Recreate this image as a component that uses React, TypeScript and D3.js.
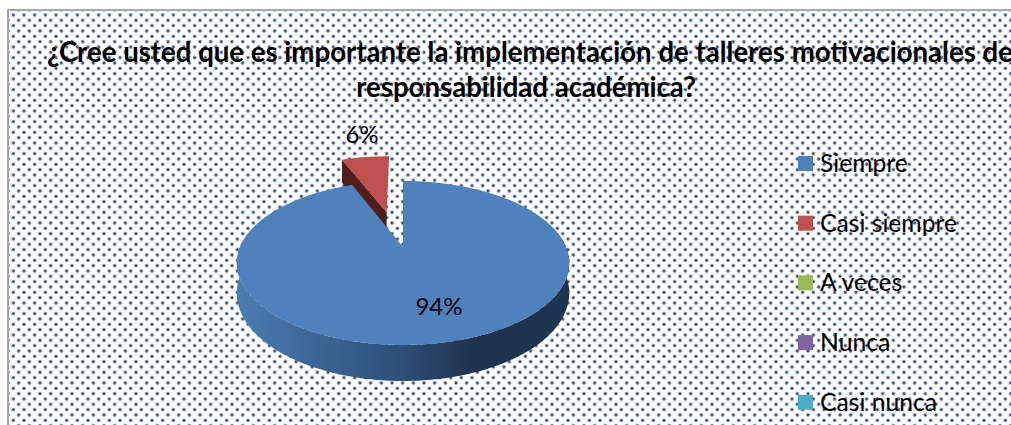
import React from "react";
import * as d3 from "d3";

const titleLines = [
  "¿Cree usted que es importante la implementación de talleres motivacionales de",
  "responsabilidad académica?",
];
const categories = ["Siempre", "Casi siempre", "A veces", "Nunca", "Casi nunca"];
const percentages = [94, 6, 0, 0, 0];
const sliceColors = ["#4f81bd", "#c0504d", "#9bbb59", "#8064a2", "#4bacc6"];
const sliceWallColors = ["#2c4d75", "#4f1e1c", "#5f7530", "#4d3b62", "#276a7c"];
const pieLabels = [
  { index: 0, x: 439, y: 315 },
  { index: 1, x: 362, y: 143 },
];

const W = 1011;
const H = 425;
const CX = 403;
const APEX_Y = 247;
const K = 163;
const PERSP = -0.195;
const YSCALE = 30.7;
const DROP = 29;
const FONT = "Lato, Carlito, 'Open Sans', sans-serif";

function project(u: number, v: number, drop = 0): [number, number] {
  const d = 1 + PERSP * v;
  return [CX + (K * u) / d, (YSCALE * v + APEX_Y) / d + drop / d];
}
const disc = (a: number, r = 1, ou = 0, ov = 0): [number, number] => [
  ou + r * Math.sin(a),
  ov - r * Math.cos(a),
];

const pieGen = d3
  .pie<number>()
  .sort(null)
  .startAngle(0)
  .endAngle(2 * Math.PI);
const arcs = pieGen(percentages);
const line = d3.line();

function topPath(start: number, end: number, ou: number, ov: number) {
  const pts: [number, number][] = [project(ou, ov)];
  for (const a of d3.range(start, end, 0.01).concat(end)) {
    const [u, v] = disc(a, 1, ou, ov);
    pts.push(project(u, v));
  }
  return line(pts) + "Z";
}

function frontWall(start: number, end: number) {
  const as = d3.range(start, end, 0.01).concat(end);
  const up = as.map((a) => {
    const [u, v] = disc(a);
    return project(u, v);
  });
  const down = as
    .slice()
    .reverse()
    .map((a) => {
      const [u, v] = disc(a);
      return project(u, v, DROP);
    });
  return line([...up, ...down]) + "Z";
}

const EXPLODE = 0.495;
const blue = arcs[0];
const red = arcs[1];
const redMid = (red.startAngle + red.endAngle) / 2 - 0.035;
const [redOu, redOv] = disc(redMid, EXPLODE);
const [redEdgeU, redEdgeV] = disc(red.startAngle, 1, redOu, redOv);

const redWall =
  line([
    project(redOu, redOv),
    project(redEdgeU, redEdgeV),
    project(redEdgeU, redEdgeV, DROP),
    project(redOu, redOv, DROP * 0.8),
  ]) + "Z";

const dotCentres = [
  [5.33, 5.33],
  [0, 0],
  [10.67, 0],
  [0, 10.67],
  [10.67, 10.67],
];

export default function App() {
  return (
    <svg
      width={W}
      height={H}
      viewBox={`0 0 ${W} ${H}`}
      style={{ position: "absolute", left: 0, top: 0, background: "#fff" }}
    >
      <defs>
        <pattern id="dots" width={32 / 3} height={32 / 3} patternUnits="userSpaceOnUse" x={8} y={9.7}>
          {dotCentres.map(([x, y]) => (
            <g key={`${x}-${y}`}>
              <circle cx={x} cy={y} r={2.1} fill="#33486a" fillOpacity={0.3} />
              <circle cx={x} cy={y} r={1.4} fill="#2b3f60" fillOpacity={0.9} />
            </g>
          ))}
        </pattern>
        <linearGradient id="wallGrad" gradientUnits="userSpaceOnUse" x1={CX - 166} x2={CX + 166} y1={0} y2={0}>
          <stop offset="0" stopColor="#4b7cb3" />
          <stop offset="0.5" stopColor="#2d4e76" />
          <stop offset="0.72" stopColor="#1d324d" />
          <stop offset="1" stopColor="#1e3550" />
        </linearGradient>
      </defs>

      <rect x={8} y={10} width={W} height={H} fill="url(#dots)" stroke="#a6a6a6" strokeWidth={2} />

      {titleLines.map((t, i) => (
        <text
          key={t}
          x={i === 0 ? 530 : 526}
          y={i === 0 ? 62 : 97}
          textAnchor="middle"
          fontFamily={FONT}
          fontWeight={700}
          fontSize={27.6}
          fill="#000"
        >
          {t}
        </text>
      ))}

      <path d={redWall} fill={sliceWallColors[1]} />
      <path d={topPath(red.startAngle, red.endAngle, redOu, redOv)} fill={sliceColors[1]} />

      <path d={frontWall(Math.PI * 0.44, Math.PI * 1.56)} fill="url(#wallGrad)" />
      <path d={topPath(blue.startAngle, blue.endAngle, 0, 0)} fill={sliceColors[0]} />

      {pieLabels.map((l) => (
        <text key={l.index} x={l.x} y={l.y} textAnchor="middle" fontFamily={FONT} fontSize={24} fill="#000">
          {percentages[l.index]}%
        </text>
      ))}

      {categories.map((c, i) => {
        const cy = 163.5 + i * 59.7;
        return (
          <g key={c}>
            <rect x={798} y={cy - 7.5} width={15} height={15} fill={sliceColors[i]} />
            <text x={820} y={cy + 8.5} fontFamily={FONT} fontSize={24.7} fill="#000">
              {c}
            </text>
          </g>
        );
      })}
    </svg>
  );
}
